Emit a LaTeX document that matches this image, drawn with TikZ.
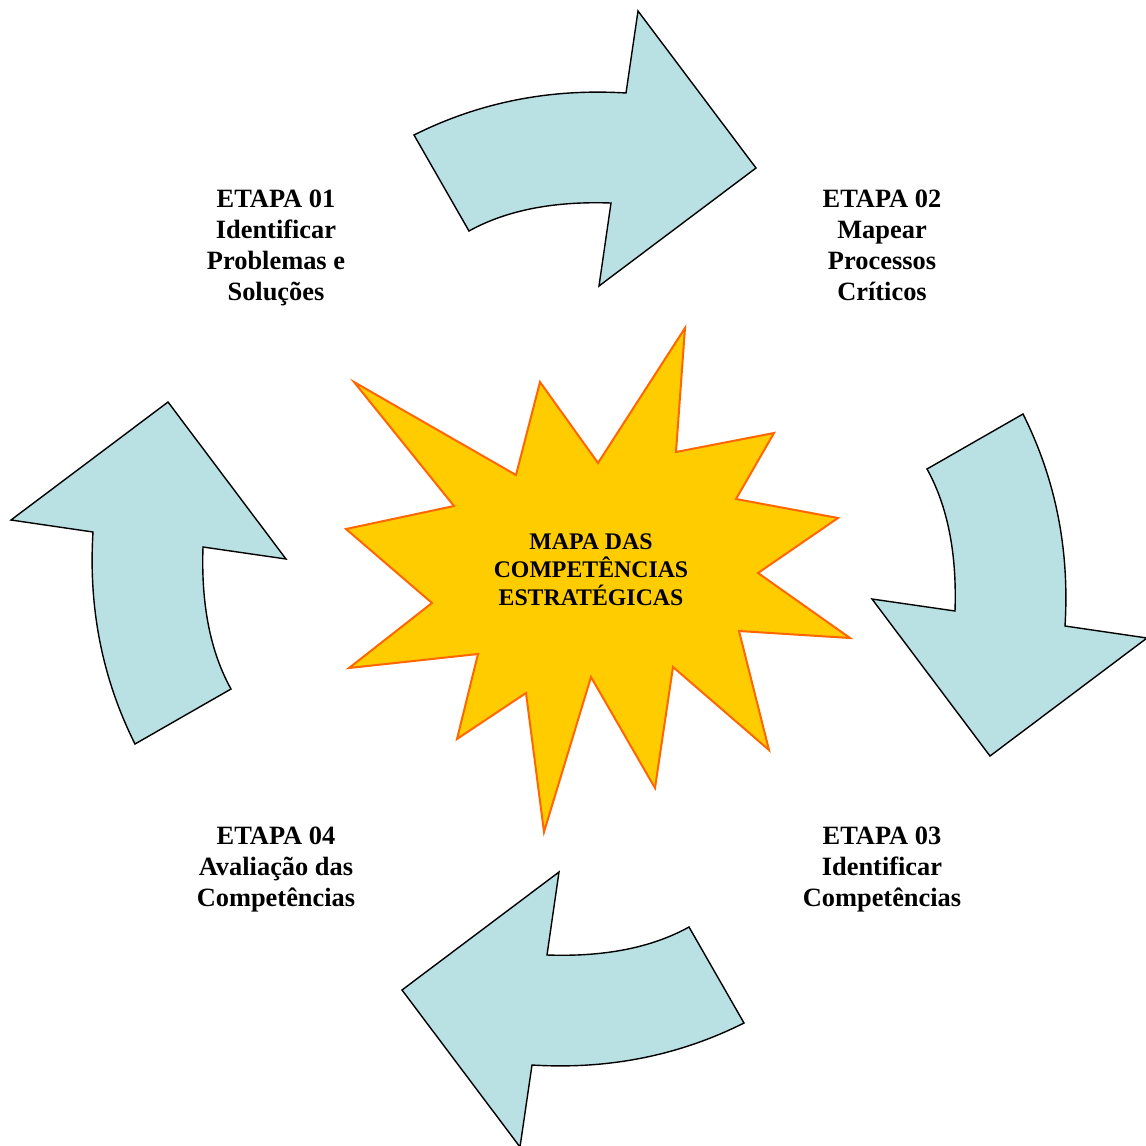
\documentclass[tikz,border=0pt]{standalone}
\usepackage{fontspec}
\setmainfont{Liberation Serif}
\definecolor{azulseta}{RGB}{185,224,227}
\definecolor{amarelo}{RGB}{255,204,0}
\definecolor{laranja}{RGB}{255,102,0}
\begin{document}
\begin{tikzpicture}[x=1pt,y=-1pt,
	seta/.style={fill=azulseta,draw=black,line width=1.4pt,line join=miter},
	estrela/.style={fill=amarelo,draw=laranja,line width=2pt,line join=miter},
	etapa/.style={font=\fontsize{26.4}{31}\selectfont\bfseries,align=center,inner sep=0pt},
	titulo/.style={font=\fontsize{23.8}{28}\selectfont\bfseries,align=center,inner sep=0pt}]
	\useasboundingbox (0,0) rectangle (1146,1146);
	% quatro setas curvas, giradas em torno do centro
	\foreach \ang in {0,-90,-180,-270}{
		\begin{scope}[shift={(579,579)},rotate=\ang]
			\draw[seta] (-165,-444) .. controls (-99.7,-476.7) and (-29,-490.7) .. (47,-486)
				-- (59,-568) -- (177,-411) -- (20,-293) -- (32,-376)
				.. controls (-25.3,-378) and (-72.7,-368.7) .. (-110,-348) -- cycle;
		\end{scope}
	}
	% estrela central
	\draw[estrela] (354,382) -- (516,475) -- (540,382) -- (598,463) -- (685,328) -- (676,452)
		-- (774,433) -- (736,499) -- (838,518) -- (758,573) -- (850,638) -- (739,631)
		-- (769,750) -- (673,667) -- (655,788) -- (591,677) -- (544,832) -- (526,693)
		-- (457,739) -- (478,654) -- (349,668) -- (432,603) -- (346,529) -- (454,506) -- cycle;
	\node[titulo] (centro) at (591,570) {MAPA DAS\\COMPETÊNCIAS\\ESTRATÉGICAS};
	\node[etapa] (etapa1) at (276,248) {ETAPA 01\\Identificar\\Problemas e\\Soluções};
	\node[etapa] (etapa2) at (882,245) {ETAPA 02\\Mapear\\Processos\\Críticos};
	\node[etapa] (etapa3) at (882,870) {ETAPA 03\\Identificar\\Competências};
	\node[etapa] (etapa4) at (276,870) {ETAPA 04\\Avaliação das\\Competências};
\end{tikzpicture}
\end{document}
